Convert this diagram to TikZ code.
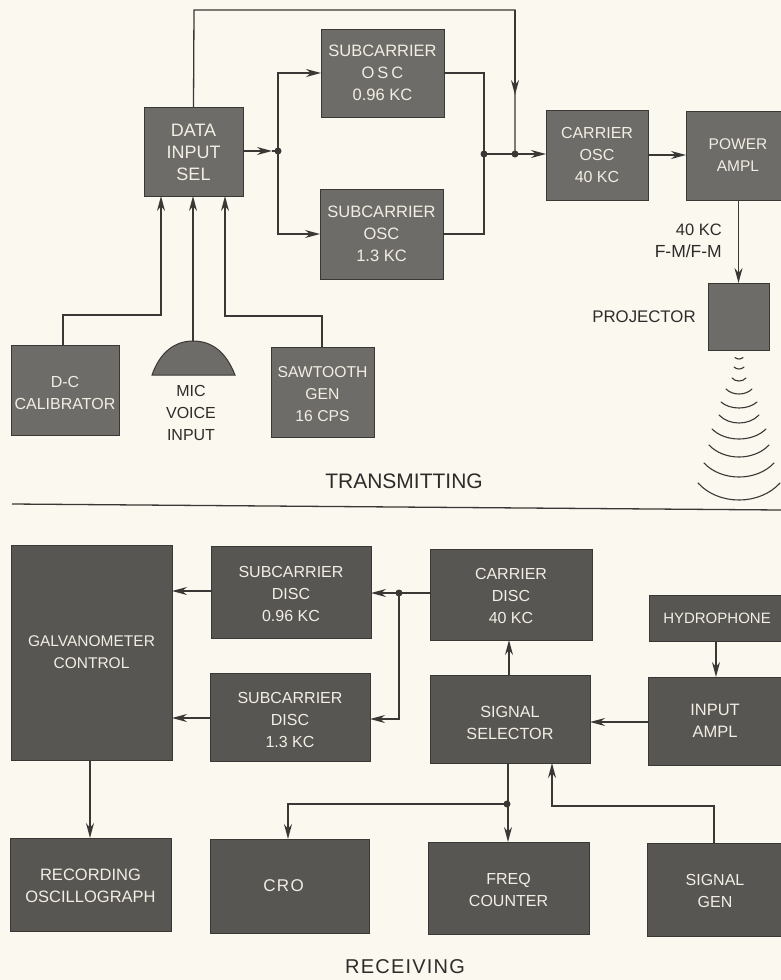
\documentclass[tikz,border=0pt]{standalone}
\usepackage{fontspec}
\setmainfont{Liberation Sans}
\usetikzlibrary{arrows.meta}
\definecolor{paper}{HTML}{FBF8F0}
\definecolor{blkA}{HTML}{6E6C68}
\definecolor{blkB}{HTML}{585653}
\definecolor{ink}{HTML}{3A3835}
\definecolor{lab}{HTML}{2E2C2A}
\definecolor{pale}{HTML}{F2EEE4}
\tikzset{
  blk/.style={draw=ink,line width=1pt,fill=blkA,text=pale,align=center,inner sep=0pt,outer sep=0pt},
  blklow/.style={blk,fill=blkB},
  conn/.style={draw=ink,line width=1.3pt},
  arr/.style={conn,-{Stealth[length=15pt,width=8pt]}},
  dot/.style={circle,fill=ink,inner sep=0pt,minimum size=7pt},
  lbl/.style={text=lab,inner sep=0pt,align=center},
  wave/.style={draw=ink,line width=1.1pt,line cap=round}
}
\newcommand{\fsz}[1]{\fontsize{#1}{22}\selectfont}
\newcommand{\blockbox}[8]{%
  \pgfmathsetmacro{\cxx}{(#3+#5)/2}\pgfmathsetmacro{\cyy}{(#4+#6)/2}%
  \pgfmathsetmacro{\www}{#5-#3}\pgfmathsetmacro{\hhh}{#6-#4}%
  \node[#1,minimum width=\www pt,minimum height=\hhh pt,font=\fsz{#7}] (#2) at (\cxx,\cyy) {#8};}
\newcommand{\wide}{\addfontfeature{LetterSpace=18}}
\newcommand{\dn}[1]{\rule{0pt}{#1pt}}
\begin{document}
\begin{tikzpicture}[x=1pt,y=-1pt]
\useasboundingbox (0,0) rectangle (781,980);
\fill[paper] (0,0) rectangle (781,980);
\clip (0,0) rectangle (781,980);
% transmitting blocks
\blockbox{blk}{data}{144}{107}{243}{196}{18}{\dn{15}DATA\\INPUT\\SEL}
\blockbox{blk}{subA}{321}{29}{444}{117}{16.5}{SUBCARRIER\\{\wide OSC}\\0.96 KC}
\blockbox{blk}{subB}{320}{189}{443}{279}{16.5}{SUBCARRIER\\OSC\\1.3 KC}
\blockbox{blk}{carr}{546}{110}{648}{200}{16}{CARRIER\\OSC\\40 KC}
\blockbox{blk}{pow}{686}{111}{790}{200}{15.5}{POWER\\AMPL}
\blockbox{blk}{proj}{708}{283}{769}{350}{10}{}
\blockbox{blk}{dc}{11}{345}{119}{435}{16}{\dn{17}D-C\\CALIBRATOR}
\blockbox{blk}{saw}{271}{347}{374}{437}{15.7}{\dn{15}SAWTOOTH\\GEN\\16 CPS}
% microphone
\fill[blkA,draw=ink,line width=1pt] (152,375) .. controls (160,352) and (175,341) .. (193,341) .. controls (212,341) and (226,352) .. (235,375) -- cycle;
\coordinate (mic) at (193,341);
% transmitting texts
\node[lbl,font=\fsz{16}] (mictext) at (191,413) {MIC\\VOICE\\INPUT};
\node[lbl,font=\fsz{21}] (ttl) at (404,481) {TRANSMITTING};
\node[lbl,font=\fsz{16.8}] (prl) at (644,317) {PROJECTOR};
\node[lbl,font=\fsz{17.5},align=right,anchor=east] (fm) at (722,241) {{\fontsize{16.5}{22}\selectfont 40 KC}\\F-M/F-M};
% transmitting connectors
\coordinate (ja) at (278,151);
\coordinate (jb) at (484,154);
\coordinate (jc) at (515,154);
\coordinate (tl) at (194,10);
\coordinate (tr) at (515,10);
\coordinate (tm) at (515,95);
\coordinate (da) at (272,151);
\coordinate (ia) at (161,196);
\coordinate (ib) at (193,196);
\coordinate (ic) at (225,196);
\draw[conn] (data.north) -- (tl) -- (tr) -- (jc);
\draw[arr] (tr) -- (tm);
\draw[arr] (data.east |- ja) -- (da);
\draw[conn] (da) -- (ja);
\draw[arr] (ja) |- (subA.west);
\draw[arr] (ja) |- (subB.west);
\draw[conn] (subA.east) -| (jb);
\draw[conn] (subB.east) -| (jb);
\draw[arr] (jb) -- (carr.west |- jb);
\draw[arr] (carr.east) -- (pow.west |- carr.east);
\draw[arr] (pow.south -| proj.north) -- (proj.north);
\draw[arr] (dc.north -| 63,0) -- (63,315) -- (161,315) -- (ia);
\draw[arr] (mic) -- (ib);
\draw[arr] (saw.north -| 322,0) -- (322,316) -- (225,316) -- (ic);
\node[dot] at (ja) {};
\node[dot] at (jb) {};
\node[dot] at (jc) {};
% sound waves
\foreach \hw/\by/\dp in {4/359/1.5,5/369/2,7/381/3,13/394/5,18/408/6,20/423/8,27/439/10,30/457/12,35/477/14,41/500/17}{
  \draw[wave] (739-\hw,\by-\dp) .. controls (739-\hw/2,\by+\dp/3) and (739+\hw/2,\by+\dp/3) .. (739+\hw,\by-\dp);
}
% divider
\coordinate (dl) at (12,504);
\coordinate (dr) at (781,510);
\draw[conn] (dl) -- (dr);
% receiving blocks
\blockbox{blklow}{galv}{11}{545}{172}{760}{15.5}{GALVANOMETER\\CONTROL}
\blockbox{blklow}{sda}{211}{546}{371}{638}{16}{\dn{15}SUBCARRIER\\DISC\\0.96 KC}
\blockbox{blklow}{sdb}{210}{673}{370}{761}{16}{\dn{17}SUBCARRIER\\DISC\\1.3 KC}
\blockbox{blklow}{rec}{10}{838}{171}{931}{16.5}{\dn{15}RECORDING\\OSCILLOGRAPH}
\blockbox{blklow}{cro}{210}{839}{369}{933}{17}{{\addfontfeature{LetterSpace=8}CRO}\hspace*{12pt}}
\blockbox{blklow}{cdi}{430}{549}{592}{640}{16}{\dn{15}CARRIER\\DISC\\40 KC}
\blockbox{blklow}{sel}{430}{675}{590}{763}{16.2}{\dn{19}SIGNAL\\SELECTOR}
\blockbox{blklow}{hyd}{649}{595}{785}{641}{15}{HYDROPHONE}
\blockbox{blklow}{inp}{648}{677}{782}{765}{16.5}{INPUT\\AMPL}
\blockbox{blklow}{frq}{428}{842}{589}{934}{16}{\dn{15}FREQ\\COUNTER}
\blockbox{blklow}{sig}{647}{843}{783}{936}{16}{\dn{15}SIGNAL\\GEN}
\node[lbl,font=\fsz{20},text depth=0pt] (rtl) at (405,967) {\addfontfeature{LetterSpace=6}RECEIVING};
% receiving connectors
\coordinate (jd) at (399,593);
\coordinate (je) at (507,804);
\coordinate (gl) at (288,804);
\coordinate (sr) at (714,806);
\coordinate (sl) at (552,806);
\coordinate (st) at (552,763);
\coordinate (gt) at (288,839);
\coordinate (gdown) at (90,760);
\coordinate (rtop) at (90,838);
\draw[arr] (sda.west |- 0,591) -- (galv.east |- 0,591);
\draw[arr] (sdb.west |- 0,718) -- (galv.east |- 0,718);
\draw[arr] (gdown) -- (rtop);
\draw[conn] (cdi.west |- jd) -- (jd);
\draw[arr] (jd) -- (sda.east |- jd);
\draw[arr] (jd) -- (399,719) -- (sdb.east |- 0,719);
\draw[arr] (sel.north -| 509,0) -- (cdi.south -| 509,0);
\draw[arr] (inp.west |- 0,722) -- (sel.east |- 0,722);
\draw[arr] (hyd.south -| 716,0) -- (inp.north -| 716,0);
\draw[arr] (sel.south -| 508,0) -- (frq.north -| 508,0);
\draw[arr] (je) -- (gl) -- (gt);
\draw[arr] (sig.north -| sr) -- (sr) -- (sl) -- (st);
\node[dot] at (jd) {};
\node[dot] at (je) {};
\end{tikzpicture}
\end{document}
